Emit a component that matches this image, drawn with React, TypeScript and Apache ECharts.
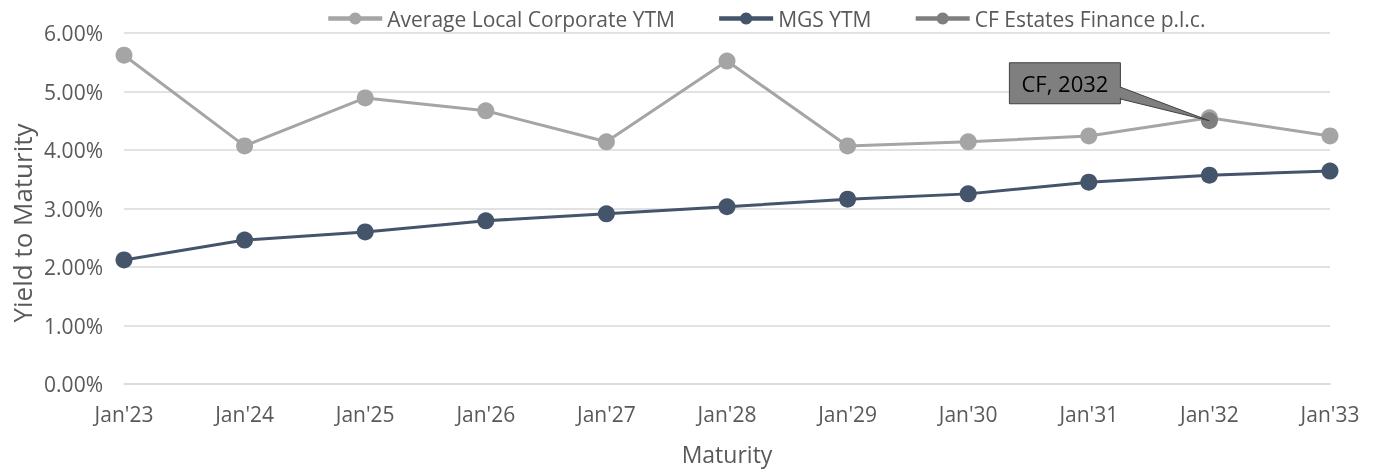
import React, { useEffect, useRef } from "react";
import * as echarts from "echarts";

const categories = ["Jan'23", "Jan'24", "Jan'25", "Jan'26", "Jan'27", "Jan'28", "Jan'29", "Jan'30", "Jan'31", "Jan'32", "Jan'33"];
const avgCorporate = [5.62, 4.07, 4.89, 4.67, 4.14, 5.52, 4.07, 4.14, 4.24, 4.55, 4.24];
const mgsYtm = [2.12, 2.46, 2.6, 2.79, 2.91, 3.03, 3.16, 3.25, 3.45, 3.57, 3.64];
const cfEstates = [null, null, null, null, null, null, null, null, null, 4.5, null];
const cfLabel = "CF, 2032";
const cfIndex = 9;
const yTitle = "Yield to Maturity";
const xTitle = "Maturity";
const yTicks = { min: 0, max: 6, interval: 1 };

const FONT = "'Open Sans', sans-serif";
const TXT = "#595959";

export default function App() {
  const ref = useRef<HTMLDivElement>(null);
  useEffect(() => {
    if (!ref.current) return;
    const chart = echarts.init(ref.current, null, { renderer: "svg" });
    chart.setOption({
      animation: false,
      textStyle: { fontFamily: FONT },
      legend: {
        top: 3,
        left: 321,
        itemWidth: 54,
        itemHeight: 15,
        itemGap: 42,
        lineStyle: { width: 4.5 },
        textStyle: { color: TXT, fontSize: 21, fontFamily: FONT },
        data: ["Average Local Corporate YTM", "MGS YTM", "CF Estates Finance p.l.c."],
      },
      grid: { left: 124, right: 49, top: 33, bottom: 87, containLabel: false },
      xAxis: {
        type: "category",
        data: categories,
        boundaryGap: false,
        name: xTitle,
        nameLocation: "middle",
        nameGap: 58,
        nameTextStyle: { color: TXT, fontSize: 23, fontFamily: FONT },
        axisLine: { lineStyle: { color: "#d9d9d9", width: 1.5 } },
        axisTick: { show: false },
        axisLabel: { color: TXT, fontSize: 21, margin: 19, fontFamily: FONT },
      },
      yAxis: {
        type: "value",
        min: yTicks.min,
        max: yTicks.max,
        interval: yTicks.interval,
        axisLine: { show: false },
        axisTick: { show: false },
        axisLabel: {
          color: TXT,
          fontSize: 21,
          margin: 21,
          fontFamily: FONT,
          formatter: (v: number) => v.toFixed(2) + "%",
        },
        splitLine: { lineStyle: { color: "#d9d9d9", width: 1.5 } },
      },
      series: [
        {
          name: "Average Local Corporate YTM",
          type: "line",
          data: avgCorporate,
          color: "#a5a5a5",
          lineStyle: { width: 3, color: "#a5a5a5" },
          symbol: "circle",
          symbolSize: 17,
          itemStyle: { color: "#a5a5a5" },
        },
        {
          name: "MGS YTM",
          type: "line",
          data: mgsYtm,
          color: "#44546a",
          lineStyle: { width: 3, color: "#44546a" },
          symbol: "circle",
          symbolSize: 17,
          itemStyle: { color: "#44546a" },
        },
        {
          name: "CF Estates Finance p.l.c.",
          type: "line",
          data: cfEstates,
          color: "#7f7f7f",
          lineStyle: { width: 3, color: "#7f7f7f" },
          symbol: "circle",
          symbolSize: 17,
          itemStyle: { color: "#7f7f7f" },
          z: 5,
        },
      ],
    });
    const pt = chart.convertToPixel({ seriesIndex: 2 }, [cfIndex, cfEstates[cfIndex] as number]) as number[];
    const bx = pt[0] - 200;
    const by = pt[1] - 58;
    const bw = 111;
    const bh = 41;
    chart.setOption({
      graphic: [
        {
          type: "text",
          x: 22,
          y: 223,
          rotation: Math.PI / 2,
          style: {
            text: yTitle,
            fill: TXT,
            font: `26px ${FONT}`,
            align: "center",
            verticalAlign: "middle",
          },
        },
        {
          type: "polygon",
          z: 100,
          shape: { points: [[bx + bw - 1, by + 24], [bx + bw - 1, by + 36], [pt[0], pt[1]]] },
          style: { fill: "#7f7f7f", stroke: "#404040", lineWidth: 1 },
        },
        {
          type: "rect",
          z: 101,
          shape: { x: bx, y: by, width: bw, height: bh },
          style: { fill: "#7f7f7f", stroke: "#404040", lineWidth: 1 },
        },
        {
          type: "rect",
          z: 102,
          shape: { x: bx + bw - 3, y: by + 25, width: 4, height: 10 },
          style: { fill: "#7f7f7f" },
        },
        {
          type: "text",
          z: 103,
          x: bx + bw / 2,
          y: by + bh / 2,
          style: {
            text: cfLabel,
            fill: "#000000",
            font: `22px ${FONT}`,
            align: "center",
            verticalAlign: "middle",
          },
        },
      ],
    });
    return () => chart.dispose();
  }, []);
  return <div ref={ref} style={{ position: "fixed", left: 0, top: 0, width: 1379, height: 471 }} />;
}
